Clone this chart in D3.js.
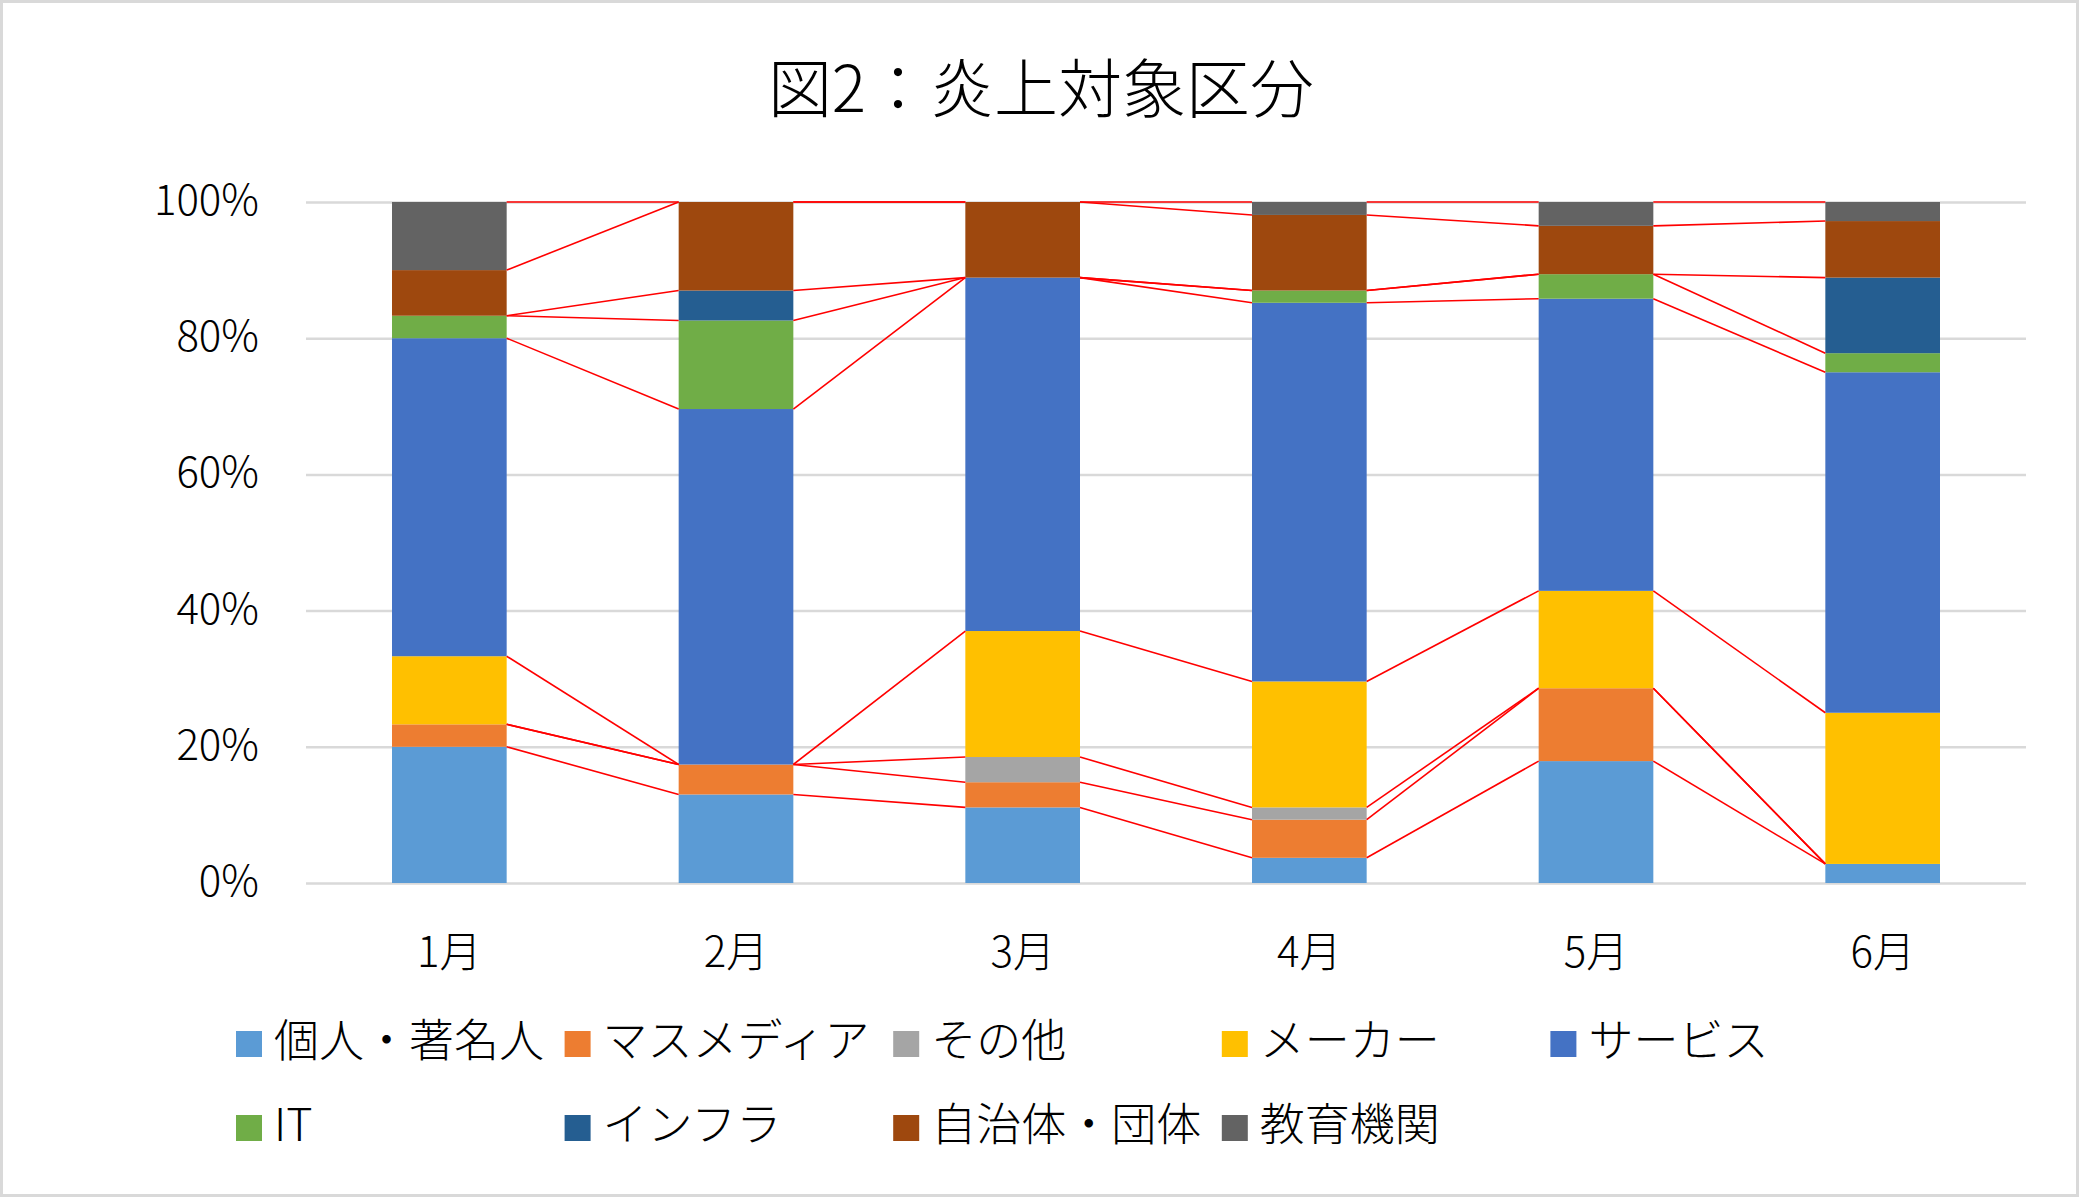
<!doctype html>
<html>
<head>
    <meta charset="UTF-8">
    <title>図2：炎上対象区分</title>
    <script src="https://d3js.org/d3.v7.min.js"></script>
    <style>
        body{ margin:0; background:#fff; }
        text{ font-family:"Noto Sans CJK JP","Noto Sans",sans-serif; font-weight:300; fill:#000; }
    </style>
</head>
<body>
   <script>
       // data (percent of each month)
       var months = ["1月", "2月", "3月", "4月", "5月", "6月"];
       var categories = ["個人・著名人", "マスメディア", "その他", "メーカー", "サービス",
                         "IT", "インフラ", "自治体・団体", "教育機関"];
       var kojin    = [20.0, 13.0, 11.1,  3.7, 17.9,  2.8];
       var masu     = [ 3.3,  4.4,  3.7,  5.6, 10.7,  0.0];
       var sonota   = [ 0.0,  0.0,  3.7,  1.8,  0.0,  0.0];
       var maker    = [10.0,  0.0, 18.5, 18.5, 14.3, 22.2];
       var service  = [46.7, 52.2, 51.9, 55.6, 42.9, 50.0];
       var it       = [ 3.3, 13.0,  0.0,  1.8,  3.6,  2.8];
       var infra    = [ 0.0,  4.4,  0.0,  0.0,  0.0, 11.1];
       var jichitai = [ 6.7, 13.0, 11.1, 11.1,  7.1,  8.3];
       var kyoiku   = [10.0,  0.0,  0.0,  1.9,  3.5,  2.8];
       var tickLabels = ["0%", "20%", "40%", "60%", "80%", "100%"];

       var seriesValues = [kojin, masu, sonota, maker, service, it, infra, jichitai, kyoiku];
       var colors = ["#5B9BD5", "#ED7D31", "#A5A5A5", "#FFC000", "#4472C4",
                     "#70AD47", "#255E91", "#9E480E", "#636363"];

       var W = 2079, H = 1197;
       var plotLeft = 306, plotRight = 2026, plotTop = 202, plotBottom = 883;

       var svg = d3.select("body").append("svg")
            .attr("width", W)
            .attr("height", H);

       svg.append("rect")
            .attr("x", 1.5).attr("y", 1.5)
            .attr("width", W - 3).attr("height", H - 3)
            .attr("fill", "#fff")
            .attr("stroke", "#D9D9D9")
            .attr("stroke-width", 3);

       // table for d3.stack
       var table = months.map(function(m, i){
           var row = {month: m};
           categories.forEach(function(c, k){ row[c] = seriesValues[k][i]; });
           return row;
       });
       var stack = d3.stack().keys(categories).offset(d3.stackOffsetExpand);
       var layers = stack(table);

       var x = d3.scaleBand().domain(months).range([plotLeft, plotRight])
            .paddingInner(0.6).paddingOuter(0.3);
       var y = d3.scaleLinear().domain([0, 1]).range([plotBottom, plotTop]);
       var bw = x.bandwidth();
       var ticks = [0, 0.2, 0.4, 0.6, 0.8, 1];

       // gridlines
       var grid = svg.append("g")
            .attr("transform", "translate(" + plotLeft + ",0)")
            .call(d3.axisLeft(y).tickValues(ticks)
                    .tickSize(-(plotRight - plotLeft)).tickFormat(""));
       grid.select(".domain").remove();
       grid.selectAll("line").attr("stroke", "#D9D9D9").attr("stroke-width", 2.5);

       // y labels
       var yAxis = svg.append("g")
            .attr("transform", "translate(259,-6)")
            .call(d3.axisLeft(y).tickValues(ticks)
                    .tickSize(0).tickPadding(0)
                    .tickFormat(function(d, i){ return tickLabels[i]; }));
       yAxis.select(".domain").remove();
       yAxis.selectAll("text")
            .attr("font-size", 42)
            .attr("font-family", null)
            .attr("fill", null)
            .attr("dy", null)
            .attr("dominant-baseline", "central");

       // x labels
       var xAxis = svg.append("g")
            .attr("transform", "translate(0,948)")
            .call(d3.axisBottom(x).tickSize(0).tickPadding(0));
       xAxis.select(".domain").remove();
       xAxis.selectAll("text")
            .attr("font-size", 42)
            .attr("font-family", null)
            .attr("fill", null)
            .attr("dy", null)
            .attr("dominant-baseline", "central");

       // bars
       svg.append("g").selectAll("g")
            .data(layers)
            .enter().append("g")
            .attr("fill", function(d, k){ return colors[k]; })
            .selectAll("rect")
            .data(function(d){ return d; })
            .enter().append("rect")
            .attr("x", function(d){ return x(d.data.month); })
            .attr("y", function(d){ return y(d[1]); })
            .attr("width", bw)
            .attr("height", function(d){ return y(d[0]) - y(d[1]); });

       // series lines joining the top of each segment
       var links = [];
       layers.forEach(function(layer){
           for(var i=0; i<layer.length-1; i++){
               links.push({
                   x1: x(months[i]) + bw, y1: y(layer[i][1]),
                   x2: x(months[i+1]),   y2: y(layer[i+1][1])
               });
           }
       });
       svg.append("g").selectAll("line")
            .data(links)
            .enter().append("line")
            .attr("x1", function(d){ return d.x1; })
            .attr("y1", function(d){ return d.y1; })
            .attr("x2", function(d){ return d.x2; })
            .attr("y2", function(d){ return d.y2; })
            .attr("stroke", "#FF0000")
            .attr("stroke-width", 1.6);

       // title
       svg.append("text")
            .attr("x", 1041)
            .attr("y", 112)
            .attr("text-anchor", "middle")
            .attr("font-size", 64)
            .text("図2：炎上対象区分");

       // legend
       var legend = svg.append("g").selectAll("g")
            .data(categories)
            .enter().append("g")
            .attr("transform", function(d, k){
                var col = k % 5, row = Math.floor(k / 5);
                return "translate(" + (236 + col * 328.6) + "," + (1044 + row * 84) + ")";
            });
       legend.append("rect")
            .attr("x", 0).attr("y", -13)
            .attr("width", 26).attr("height", 26)
            .attr("fill", function(d, k){ return colors[k]; });
       legend.append("text")
            .attr("x", 38)
            .attr("y", -7)
            .attr("dominant-baseline", "central")
            .attr("font-size", 45)
            .text(function(d){ return d; });
   </script>
</body>
</html>
